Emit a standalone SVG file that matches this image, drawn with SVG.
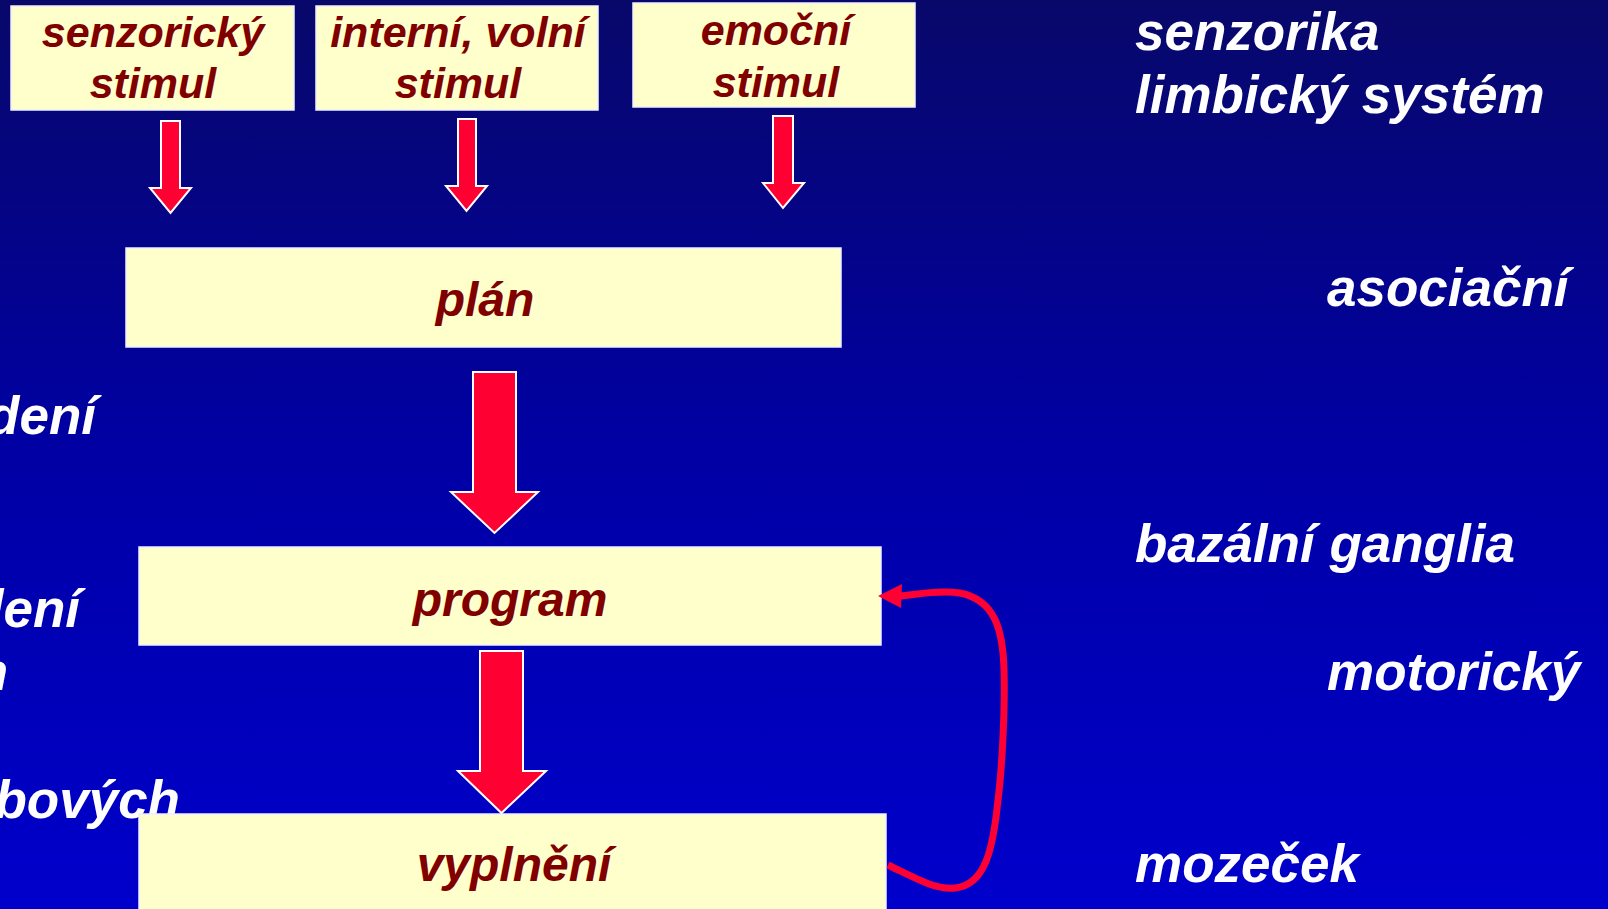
<svg xmlns="http://www.w3.org/2000/svg" width="1608" height="909" viewBox="0 0 1608 909">
  <defs>
    <linearGradient id="bg" x1="0" y1="0" x2="0" y2="1">
      <stop offset="0" stop-color="#08086a"/>
      <stop offset="0.5" stop-color="#0000a4"/>
      <stop offset="1" stop-color="#0000cc"/>
    </linearGradient>
  </defs>
  <style>
    .box { fill: #ffffcc; stroke: #eeeeff; stroke-width: 1.5; }
    .btxt { font-family: "Liberation Sans", Arial, sans-serif; font-weight: bold; font-style: italic; fill: #800000; text-anchor: middle; }
    .wtxt { font-family: "Liberation Sans", Arial, sans-serif; font-weight: bold; font-style: italic; fill: #ffffff; font-size: 53px; }
    .arr { fill: #ff0033; stroke: #ffffff; stroke-width: 2; stroke-linejoin: miter; }
    .loop { fill: none; stroke: #ff0033; stroke-width: 7; stroke-linecap: butt; }
  </style>
  <rect x="0" y="0" width="1608" height="909" fill="url(#bg)"/>

  <g id="labels-right">
    <text class="wtxt" x="1135" y="50">senzorika</text>
    <text class="wtxt" x="1135" y="113">limbický systém</text>
    <text class="wtxt" x="1327" y="306">asociační</text>
    <text class="wtxt" x="1135" y="562">bazální ganglia</text>
    <text class="wtxt" x="1327" y="690">motorický</text>
    <text class="wtxt" x="1135" y="882">mozeček</text>
  </g>
  <g id="labels-left">
    <text class="wtxt" x="96" y="434" text-anchor="end">dení</text>
    <text class="wtxt" x="80" y="627" text-anchor="end">lení</text>
    <text class="wtxt" x="8" y="690" text-anchor="end">n</text>
    <text class="wtxt" x="180" y="818" text-anchor="end">bových</text>
  </g>

  <g id="n-senzoricky">
    <rect class="box" x="11" y="6" width="283" height="104"/>
    <text class="btxt" font-size="43" x="153" y="47">senzorický</text>
    <text class="btxt" font-size="43" x="153" y="98">stimul</text>
  </g>
  <g id="n-interni">
    <rect class="box" x="316" y="6" width="282" height="104"/>
    <text class="btxt" font-size="43" x="458" y="47">interní, volní</text>
    <text class="btxt" font-size="43" x="458" y="98">stimul</text>
  </g>
  <g id="n-emocni">
    <rect class="box" x="633" y="3" width="282" height="104"/>
    <text class="btxt" font-size="43" x="776" y="45">emoční</text>
    <text class="btxt" font-size="43" x="776" y="97">stimul</text>
  </g>
  <g id="n-plan">
    <rect class="box" x="126" y="248" width="715" height="99"/>
    <text class="btxt" font-size="48" x="485" y="316">plán</text>
  </g>
  <g id="n-program">
    <rect class="box" x="139" y="547" width="742" height="98"/>
    <text class="btxt" font-size="48" x="510" y="616">program</text>
  </g>
  <g id="n-vyplneni">
    <rect class="box" x="139" y="814" width="747" height="100"/>
    <text class="btxt" font-size="48" x="514" y="881">vyplnění</text>
  </g>

  <g id="connectors">
    <polygon class="arr" points="161,121 180,121 180,188 191,188 170.5,213 150,188 161,188"/>
    <polygon class="arr" points="458,119 476,119 476,186 487,186 466.5,211 446,186 458,186"/>
    <polygon class="arr" points="773,116 793,116 793,183 804,183 783,208 763,183 773,183"/>
    <polygon class="arr" points="473,372 516,372 516,492 538,492 494.5,533 451,492 473,492"/>
    <polygon class="arr" points="480,651 523,651 523,771 546,771 501.5,813 458,771 480,771"/>
    <path class="loop" d="M 888 865 C 915 878, 935 890, 955 888 C 985 885, 993 850, 998 800 C 1003 760, 1005 700, 1004 670 C 1003 630, 995 600, 960 593 C 940 590, 920 594, 900 596"/>
    <polygon points="878,596 902,584 901,608" fill="#ff0033"/>
  </g>
</svg>
